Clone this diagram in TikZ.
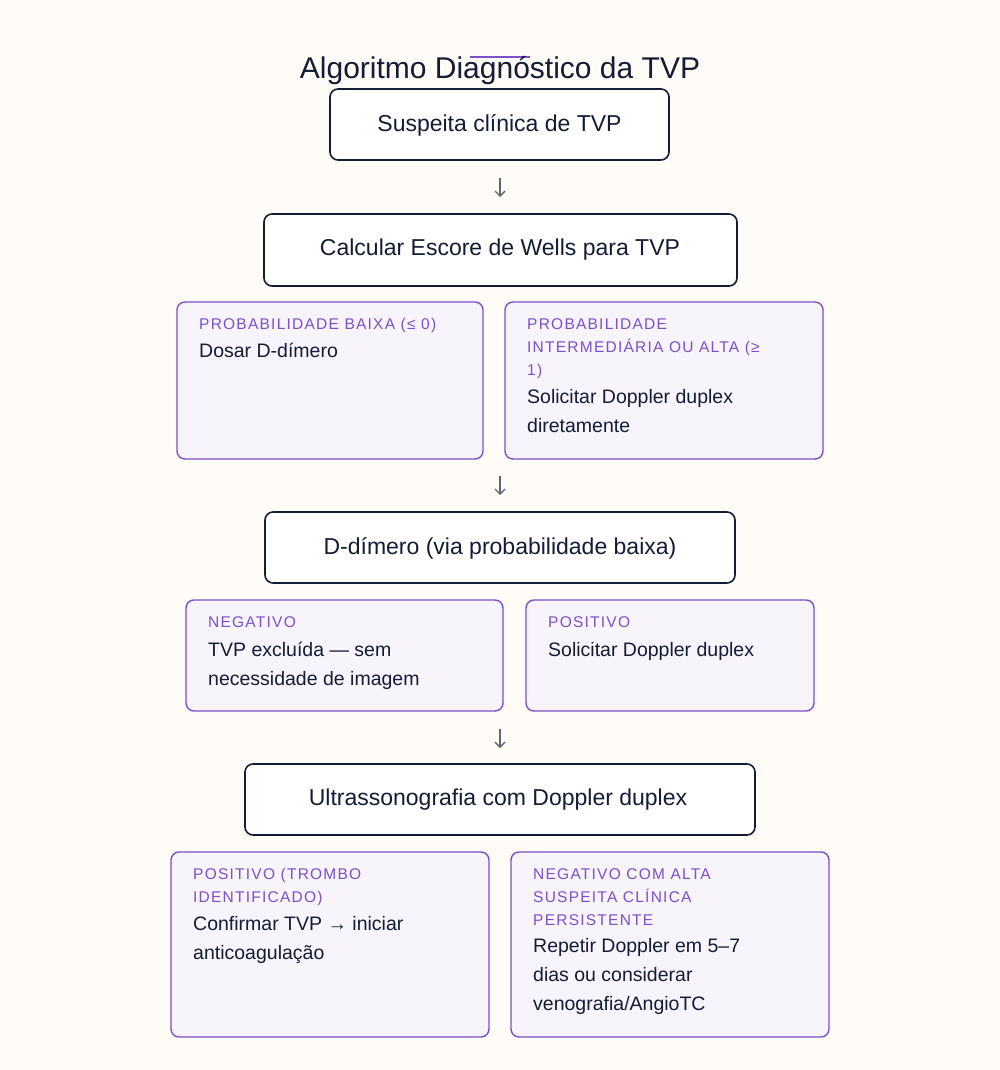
\documentclass[tikz,border=0pt]{standalone}
\usepackage{fontspec}
\setmainfont{Liberation Sans}
\usetikzlibrary{arrows.meta}
\definecolor{bg}{HTML}{FFFBF7}
\definecolor{ink}{HTML}{141B34}
\definecolor{pur}{HTML}{7E4FC6}
\definecolor{cardbg}{HTML}{F8F4FC}
\definecolor{arr}{HTML}{5F6673}
\begin{document}
\begin{tikzpicture}[x=1pt,y=-1pt,
  box/.style={draw=ink,line width=1.6pt,rounded corners=8pt,fill=white},
  card/.style={draw=pur,line width=1.4pt,rounded corners=8pt,fill=cardbg},
  btxt/.style={font=\fontsize{23}{28}\selectfont,text=ink},
  lab/.style={anchor=north west,align=left,font=\fontsize{15.5}{23}\selectfont\addfontfeatures{LetterSpace=8},text=pur,inner sep=0pt},
  body/.style={anchor=north west,align=left,font=\fontsize{19.5}{29}\selectfont,text=ink,inner sep=0pt},
  ar/.style={draw=arr,line width=1.4pt,-{Straight Barb[length=5pt,width=10pt]}}]
\fill[bg] (0,0) rectangle (1000,1070);
\useasboundingbox (0,0) rectangle (1000,1070);
\draw[pur,line width=2.5pt] (470,57) -- (530,57);
\node[font=\fontsize{30}{36}\selectfont,text=ink] (title) at (500,71) {Algoritmo Diagnóstico da TVP};

\draw[box] (330,89) rectangle (669,160);
\node[btxt] (b1) at (499.5,125) {Suspeita clínica de TVP};
\coordinate (a1s) at (500,178); \coordinate (a1e) at (500,197);
\draw[ar] (a1s) -- (a1e);
\draw[box] (264,214) rectangle (737,286);
\node[btxt] (b2) at (500,250) {Calcular Escore de Wells para TVP};

\draw[card] (177,302) rectangle (483,459);
\node[lab] (l1) at (199,318) {PROBABILIDADE BAIXA (≤ 0)};
\node[body] (t1) at (199,343) {Dosar D-dímero};
\draw[card] (505,302) rectangle (823,459);
\node[lab] (l2) at (527,318) {PROBABILIDADE\\INTERMEDIÁRIA OU ALTA (≥\\1)};
\node[body] (t2) at (527,389) {Solicitar Doppler duplex\\diretamente};

\coordinate (a2s) at (500,476); \coordinate (a2e) at (500,495);
\draw[ar] (a2s) -- (a2e);
\draw[box] (265,512) rectangle (735,583);
\node[btxt] (b3) at (500,548) {D-dímero (via probabilidade baixa)};

\draw[card] (186,600) rectangle (503,711);
\node[lab] (l3) at (208,616) {NEGATIVO};
\node[body] (t3) at (208,642) {TVP excluída — sem\\necessidade de imagem};
\draw[card] (526,600) rectangle (814,711);
\node[lab] (l4) at (548,616) {POSITIVO};
\node[body] (t4) at (548,642) {Solicitar Doppler duplex};

\coordinate (a3s) at (500,729); \coordinate (a3e) at (500,748);
\draw[ar] (a3s) -- (a3e);
\draw[box] (245,764) rectangle (755,835);
\node[btxt] (b4) at (498,800) {Ultrassonografia com Doppler duplex};

\draw[card] (171,852) rectangle (489,1037);
\node[lab] (l5) at (193,868) {POSITIVO (TROMBO\\IDENTIFICADO)};
\node[body] (t5) at (193,916) {Confirmar TVP → iniciar\\anticoagulação};
\draw[card] (511,852) rectangle (829,1037);
\node[lab] (l6) at (533,868) {NEGATIVO COM ALTA\\SUSPEITA CLÍNICA\\PERSISTENTE};
\node[body] (t6) at (533,938) {Repetir Doppler em 5–7\\dias ou considerar\\venografia/AngioTC};
\end{tikzpicture}
\end{document}
